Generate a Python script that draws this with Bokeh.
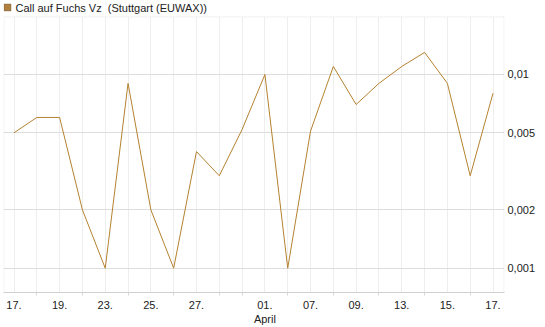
import math
from bokeh.plotting import figure
from bokeh.models import (Range1d, FixedTicker, LogAxis, LogScale, Label, BoxAnnotation,
                          CustomJSTickFormatter, ColumnDataSource, Grid)
from bokeh.embed import file_html
from bokeh.resources import INLINE

# ---- data ----
dates = ["17.", "18.", "19.", "22.", "23.", "24.", "25.", "26.", "27.", "28.", "29.",
         "01.", "06.", "07.", "08.", "09.", "12.", "13.", "14.", "15.", "16.", "17."]
values = [0.005, 0.006, 0.006, 0.002, 0.001, 0.009, 0.002, 0.001, 0.004, 0.003, 0.0052,
          0.010, 0.001, 0.0051, 0.011, 0.007, 0.009, 0.011, 0.013, 0.009, 0.003, 0.008]
label_idx = [0, 2, 4, 6, 8, 11, 13, 15, 17, 19, 21]
tick_labels = ["17.", "19.", "23.", "25.", "27.", "01.\nApril", "07.", "09.", "13.", "15.", "17."]
y_ticks = [0.001, 0.002, 0.005, 0.01]
series_name = "Call auf Fuchs Vz\u00a0 (Stuttgart (EUWAX))"

LINE = "#b5822f"
FONT = "Liberation Sans"
GRAY = "#d0d0d0"

# ---- layout helpers (pixel -> axis units) ----
X0, DX = 13.5, 22.81          # pixel of first category, pixel step
Y_REF, DEC = 74.5, 195.0       # pixel of 0.01 gridline, pixels per decade
def px_x(px):
    return (px - X0) / DX
def px_y(py):
    return 10 ** (-2 - (py - Y_REF) / DEC)

xs = list(range(len(values)))
src = ColumnDataSource(dict(x=xs, y=values))

p = figure(width=545, height=327, output_backend="svg", toolbar_location=None,
           y_axis_type=None, y_axis_location=None,
           x_range=Range1d(px_x(3), px_x(504)),
           y_range=Range1d(px_y(294), px_y(0)),
           min_border_left=3, min_border_right=41, min_border_top=0, min_border_bottom=33)
p.y_scale = LogScale()
p.outline_line_color = None
p.background_fill_color = "white"
p.border_fill_color = "white"

# right log axis
yax = LogAxis(ticker=FixedTicker(ticks=y_ticks, minor_ticks=[]),
              formatter=CustomJSTickFormatter(code="return tick.toString().replace('.', ',');"))
yax.axis_line_color = None
yax.major_tick_out = 0
yax.major_tick_in = 0
yax.minor_tick_out = 0
yax.minor_tick_in = 0
yax.major_label_standoff = 3
yax.major_label_text_font = FONT
yax.major_label_text_font_size = "11px"
yax.major_label_text_color = "#222222"
p.add_layout(yax, "right")

# bottom axis
xax = p.xaxis[0]
minor = [i for i in xs if i not in label_idx]
xax.ticker = FixedTicker(ticks=label_idx, minor_ticks=minor)
xax.major_label_overrides = {i: t for i, t in zip(label_idx, tick_labels)}
xax.axis_line_color = GRAY
xax.major_tick_out = 0
xax.major_tick_in = 0
xax.minor_tick_out = 3
xax.minor_tick_in = 0
xax.minor_tick_line_color = "#d8d8d8"
xax.major_label_standoff = 3
xax.major_label_text_font = FONT
xax.major_label_text_font_size = "11px"
xax.major_label_text_color = "#222222"

# grids
p.xgrid.ticker = FixedTicker(ticks=xs)
p.xgrid.grid_line_color = "#eeeeee"
p.center = [c for c in p.center if not (isinstance(c, Grid) and c.dimension == 1)]
p.add_layout(Grid(dimension=1, ticker=FixedTicker(ticks=y_ticks), grid_line_color="#dddddd"), "center")

line = p.line("x", "y", source=src, line_color=LINE, line_width=1)

# white band above the plot area (legend strip)
p.add_layout(BoxAnnotation(bottom=px_y(16.5), fill_color="white", fill_alpha=1,
                           line_color=None))
# plot-area border
p.add_layout(BoxAnnotation(left=px_x(3.5), right=px_x(503.5), bottom=px_y(294),
                           top=px_y(16.5), fill_alpha=0, line_color=GRAY, line_width=1))

# legend: coloured square + text
p.add_layout(BoxAnnotation(left=px_x(3.5), right=px_x(10.5), top=px_y(3.5), bottom=px_y(10.5),
                           fill_color="#b08040", fill_alpha=1, line_color="#4d3a1e", line_width=1))
p.add_layout(Label(x=px_x(15), y=px_y(8), text=series_name,
                   text_font=FONT, text_font_size="11px", text_color="#222222",
                   text_align="left", text_baseline="middle"))

open("out.html", "w").write(file_html(p, INLINE))
